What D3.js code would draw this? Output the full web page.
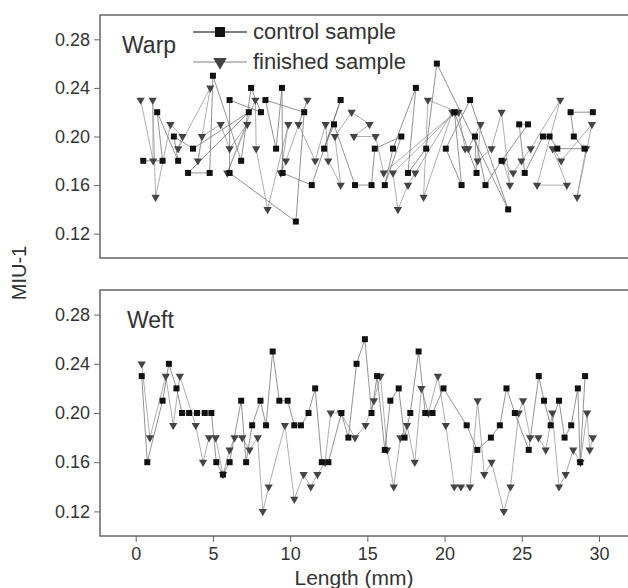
<!DOCTYPE html>
<html>
<head>
<meta charset="utf-8">
<script src="https://cdn.jsdelivr.net/npm/d3@7"></script>
<style>
  body { margin: 0; background: #fff; }
  svg { display: block; }
  text { font-family: "Liberation Sans", Arial, sans-serif; fill: #333; }
</style>
</head>
<body>
<svg id="chart" width="628" height="588"></svg>
<script>
  // Warp panel, points in the order they were drawn (lines cross in the original)
  const warpControlX = [0.49, 1.74, 1.39, 2.75, 2.47, 3.71, 7.32, 3.39, 4.79, 5.0, 6.83, 7.47, 8.11, 6.08, 6.08, 10.37, 10.91, 8.40, 9.09, 9.47, 9.51, 11.4, 13.27, 12.2, 12.84, 14.2, 15.27, 15.48, 17.2, 16.13, 16.66, 18.14, 17.63, 18.81, 19.5, 24.12, 21.65, 20.08, 21.1, 20.64, 22.07, 21.97, 22.65, 23.69, 25.4, 24.83, 25.19, 26.37, 26.8, 27.3, 29.06, 28.37, 28.16, 29.6];
  const warpControlY = [0.18, 0.18, 0.22, 0.18, 0.20, 0.19, 0.22, 0.17, 0.17, 0.25, 0.18, 0.24, 0.22, 0.23, 0.17, 0.13, 0.22, 0.23, 0.19, 0.24, 0.17, 0.16, 0.23, 0.19, 0.21, 0.16, 0.16, 0.19, 0.20, 0.16, 0.19, 0.24, 0.17, 0.19, 0.26, 0.14, 0.23, 0.19, 0.16, 0.22, 0.17, 0.20, 0.16, 0.18, 0.21, 0.21, 0.17, 0.20, 0.20, 0.19, 0.19, 0.20, 0.22, 0.22];
  const warpFinishedX = [0.32, 1.13, 1.1, 1.29, 2.25, 3.03, 2.75, 4.83, 4.03, 4.29, 5.5, 6.08, 7.22, 5.93, 7.75, 7.8, 8.54, 9.88, 9.4, 9.73, 11.12, 10.54, 11.62, 12.3, 12.47, 13.27, 12.9, 13.98, 15.14, 14.13, 15.53, 16.06, 20.7, 16.66, 16.98, 17.63, 18.1, 20.5, 18.64, 18.92, 20.9, 21.33, 21.54, 22.33, 22.14, 23.04, 23.69, 24.23, 23.8, 24.44, 24.98, 25.58, 27.49, 25.99, 27.92, 27.0, 27.55, 29.54, 28.58, 29.16];
  const warpFinishedY = [0.23, 0.18, 0.23, 0.15, 0.21, 0.20, 0.19, 0.24, 0.18, 0.20, 0.21, 0.19, 0.21, 0.17, 0.23, 0.19, 0.14, 0.21, 0.17, 0.18, 0.23, 0.21, 0.18, 0.21, 0.18, 0.16, 0.20, 0.22, 0.21, 0.20, 0.20, 0.17, 0.22, 0.17, 0.14, 0.16, 0.17, 0.22, 0.15, 0.23, 0.22, 0.19, 0.19, 0.21, 0.18, 0.19, 0.22, 0.16, 0.18, 0.17, 0.18, 0.19, 0.23, 0.16, 0.16, 0.19, 0.18, 0.21, 0.15, 0.19];

  // Weft panel
  const weftControlX = [0.39, 0.75, 1.74, 2.15, 2.64, 3.0, 3.46, 3.97, 4.47, 4.9, 5.22, 5.65, 6.08, 6.83, 7.15, 7.54, 8.08, 8.44, 8.87, 9.3, 9.84, 10.27, 10.7, 11.19, 11.62, 12.05, 12.48, 13.32, 13.77, 14.3, 14.84, 15.27, 15.63, 16.13, 16.49, 17.03, 17.41, 17.78, 18.32, 18.75, 19.22, 19.93, 21.43, 22.12, 23.0, 23.58, 24.01, 24.55, 25.45, 26.1, 26.44, 26.87, 27.41, 27.77, 28.2, 28.63, 28.78, 29.1];
  const weftControlY = [0.23, 0.16, 0.21, 0.24, 0.22, 0.20, 0.20, 0.20, 0.20, 0.20, 0.16, 0.15, 0.16, 0.21, 0.16, 0.19, 0.21, 0.19, 0.25, 0.21, 0.21, 0.19, 0.19, 0.20, 0.22, 0.16, 0.16, 0.20, 0.18, 0.24, 0.26, 0.20, 0.23, 0.17, 0.21, 0.22, 0.18, 0.20, 0.25, 0.20, 0.20, 0.22, 0.19, 0.17, 0.18, 0.19, 0.22, 0.20, 0.17, 0.23, 0.21, 0.19, 0.21, 0.18, 0.19, 0.22, 0.16, 0.23];
  const weftFinishedX = [0.39, 0.92, 1.95, 2.43, 2.86, 3.89, 4.36, 4.75, 5.18, 5.65, 6.08, 6.4, 6.9, 7.37, 7.9, 8.23, 8.61, 9.66, 10.27, 10.87, 11.34, 11.77, 12.26, 12.63, 13.27, 14.2, 14.88, 15.42, 15.85, 16.28, 16.71, 17.14, 17.57, 18.07, 18.5, 18.96, 19.57, 20.08, 20.63, 21.06, 21.64, 22.14, 22.57, 23.04, 23.84, 24.27, 24.8, 25.08, 25.54, 26.08, 26.55, 26.98, 27.41, 27.84, 28.33, 28.8, 29.23, 29.4, 29.6];
  const weftFinishedY = [0.24, 0.18, 0.23, 0.19, 0.23, 0.19, 0.16, 0.18, 0.18, 0.15, 0.17, 0.18, 0.18, 0.17, 0.18, 0.12, 0.14, 0.19, 0.13, 0.15, 0.14, 0.15, 0.16, 0.20, 0.20, 0.18, 0.19, 0.21, 0.23, 0.17, 0.14, 0.18, 0.19, 0.16, 0.22, 0.20, 0.23, 0.19, 0.14, 0.14, 0.14, 0.21, 0.15, 0.16, 0.12, 0.14, 0.20, 0.21, 0.18, 0.18, 0.17, 0.20, 0.14, 0.15, 0.17, 0.16, 0.20, 0.17, 0.18];

  const yTicks = [0.12, 0.16, 0.20, 0.24, 0.28];
  const xTicks = [0, 5, 10, 15, 20, 25, 30];

  const svg = d3.select('#chart');
  const boxLeft = 100, boxRight = 642;
  const x = d3.scaleLinear().domain([0, 30]).range([135.7, 599]);

  const panels = [
    {name: 'Warp', top: 15, bottom: 258, cx: warpControlX, cy: warpControlY, fx: warpFinishedX, fy: warpFinishedY, labelY: 53},
    {name: 'Weft', top: 290, bottom: 536, cx: weftControlX, cy: weftControlY, fx: weftFinishedX, fy: weftFinishedY, labelY: 328}
  ];

  const tri = d3.symbol().type(d3.symbolTriangle);

  panels.forEach((p, pi) => {
    const y = d3.scaleLinear().domain([0.10, 0.30]).range([p.bottom, p.top]);
    const g = svg.append('g');

    g.append('rect')
      .attr('x', boxLeft).attr('y', p.top)
      .attr('width', boxRight - boxLeft).attr('height', p.bottom - p.top)
      .attr('fill', 'none').attr('stroke', '#666').attr('stroke-width', 1.5);

    // y axis
    const yAxis = g.append('g')
      .attr('transform', `translate(${boxLeft},0)`)
      .call(d3.axisLeft(y).tickValues(yTicks).tickFormat(d3.format('.2f')).tickSize(6).tickPadding(4));
    yAxis.select('.domain').remove();
    yAxis.selectAll('line').attr('stroke', '#666');
    yAxis.selectAll('text').style('font-size', '18px').attr('fill', '#3a3a3a');

    const control = p.cx.map((d, i) => [d, p.cy[i]]);
    const finished = p.fx.map((d, i) => [d, p.fy[i]]);
    const line = d3.line().x(d => x(d[0])).y(d => y(d[1]));

    g.append('path').datum(finished).attr('d', line)
      .attr('fill', 'none').attr('stroke', '#999').attr('stroke-width', 0.8);
    g.append('path').datum(control).attr('d', line)
      .attr('fill', 'none').attr('stroke', '#777').attr('stroke-width', 0.8);

    g.selectAll('.fin').data(finished).enter().append('path')
      .attr('class', 'fin')
      .attr('d', tri.size(30))
      .attr('transform', d => `translate(${x(d[0])},${y(d[1])}) rotate(180)`)
      .attr('fill', '#444');

    g.selectAll('.ctl').data(control).enter().append('rect')
      .attr('class', 'ctl')
      .attr('x', d => x(d[0]) - 3).attr('y', d => y(d[1]) - 3)
      .attr('width', 6).attr('height', 6)
      .attr('fill', '#111');

    g.append('text')
      .attr('x', pi === 0 ? 122 : 127).attr('y', p.labelY)
      .style('font-size', '23px')
      .text(p.name);

    if (pi === 1) {
      const xAxis = g.append('g')
        .attr('transform', `translate(0,${p.bottom})`)
        .call(d3.axisBottom(x).tickValues(xTicks).tickSize(6).tickPadding(5));
      xAxis.select('.domain').remove();
      xAxis.selectAll('line').attr('stroke', '#666');
      xAxis.selectAll('text').style('font-size', '18px').attr('fill', '#3a3a3a');
    }
  });

  // legend
  const legend = svg.append('g');
  const legendRows = [
    {label: 'control sample', y: 32, stroke: '#555'},
    {label: 'finished sample', y: 62, stroke: '#aaa'}
  ];
  legendRows.forEach((r, i) => {
    legend.append('line')
      .attr('x1', 193).attr('x2', 247).attr('y1', r.y).attr('y2', r.y)
      .attr('stroke', r.stroke).attr('stroke-width', 1.4);
    if (i === 0) {
      legend.append('rect').attr('x', 215).attr('y', r.y - 5).attr('width', 10).attr('height', 10).attr('fill', '#111');
    } else {
      legend.append('path').attr('d', tri.size(80))
        .attr('transform', `translate(220,${r.y}) rotate(180)`).attr('fill', '#444');
    }
    legend.append('text').attr('x', 253).attr('y', r.y + 7)
      .style('font-size', '22px').text(r.label);
  });

  svg.append('text')
    .attr('x', 354).attr('y', 585)
    .attr('text-anchor', 'middle')
    .style('font-size', '21px')
    .text('Length (mm)');

  svg.append('text')
    .attr('transform', 'translate(26,273) rotate(-90)')
    .attr('text-anchor', 'middle')
    .style('font-size', '20px')
    .text('MIU-1');
</script>
</body>
</html>
